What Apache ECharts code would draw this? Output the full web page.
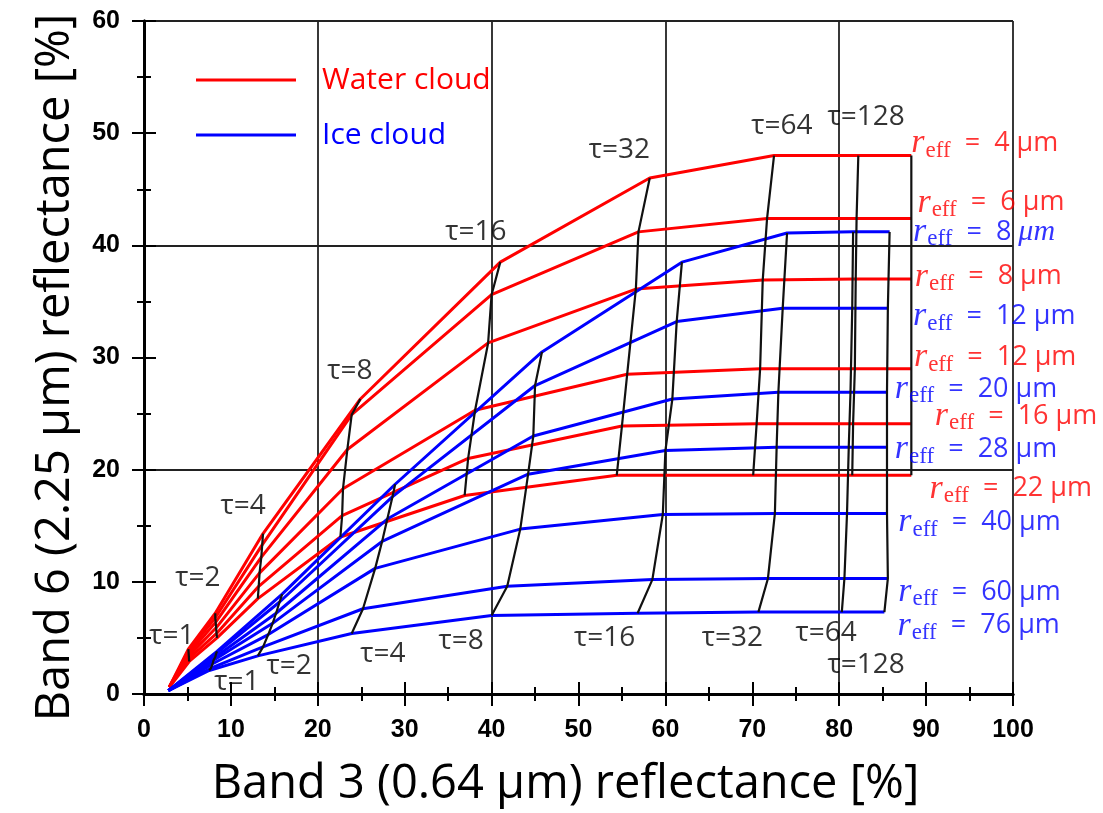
<!DOCTYPE html>
<html>
<head>
<meta charset="utf-8">
<script src="https://cdn.jsdelivr.net/npm/echarts@6/dist/echarts.min.js"></script>
<style>
html,body{margin:0;padding:0;background:#fff;}
#chart{width:1103px;height:813px;}
</style>
</head>
<body>
<div id="chart"></div>
<script>
// ---- data: optical thickness levels ----
const tauValues = [0, 1, 2, 4, 8, 16, 32, 64, 128];

// water cloud curves [band3, band6] at tau = 0,1,2,4,8,16,32,64,128, end
const water_r4  = [[2.9,0.6],[5.1,4.0],[8.2,7.2],[13.7,14.3],[24.9,26.3],[41.0,38.5],[58.2,46.0],[72.5,48.0],[82.2,48.0],[88.3,48.0]];
const water_r6  = [[2.9,0.6],[5.12,3.8],[8.2,6.8],[13.6,13.3],[23.9,24.9],[40.0,35.6],[56.9,41.2],[71.7,42.4],[82.0,42.4],[88.3,42.4]];
const water_r8  = [[2.9,0.6],[5.14,3.6],[8.25,6.4],[13.5,12.2],[23.4,21.8],[39.6,31.3],[56.6,36.1],[71.2,36.9],[81.9,37.0],[88.3,37.0]];
const water_r12 = [[2.9,0.6],[5.16,3.4],[8.3,5.9],[13.3,10.8],[22.9,18.3],[38.1,25.3],[55.6,28.5],[70.9,29.0],[81.8,29.0],[88.3,29.0]];
const water_r16 = [[2.9,0.6],[5.18,3.15],[8.35,5.4],[13.2,9.6],[22.8,15.9],[37.3,21.0],[55.0,23.9],[70.5,24.1],[81.6,24.1],[88.3,24.1]];
const water_r22 = [[2.9,0.6],[5.2,2.9],[8.4,5.0],[13.1,8.5],[22.6,14.0],[36.9,17.7],[54.4,19.5],[70.1,19.5],[81.5,19.5],[88.3,19.5]];

// ice cloud curves at tau = 0,1,2,4,8,16,32,64,128
const ice_r8  = [[2.8,0.3],[8.4,3.8],[15.9,8.9],[28.9,18.7],[45.8,30.5],[61.9,38.5],[74.0,41.1],[81.6,41.2],[85.8,41.2]];
const ice_r12 = [[2.8,0.3],[8.3,3.6],[15.6,8.2],[28.6,17.6],[45.0,27.5],[61.3,33.2],[73.5,34.4],[81.5,34.4],[85.6,34.4]];
const ice_r20 = [[2.8,0.3],[8.2,3.3],[15.2,7.2],[28.0,15.6],[44.8,23.0],[60.8,26.3],[73.0,26.9],[81.3,26.9],[85.5,26.9]];
const ice_r28 = [[2.8,0.3],[8.0,3.0],[14.8,6.3],[27.4,13.6],[44.2,19.6],[60.0,21.7],[72.8,22.0],[81.1,22.0],[85.5,22.0]];
const ice_r40 = [[2.8,0.3],[7.9,2.7],[14.3,5.3],[26.6,11.2],[43.3,14.7],[59.7,16.0],[72.6,16.1],[80.9,16.1],[85.5,16.1]];
const ice_r60 = [[2.8,0.3],[7.7,2.3],[13.7,4.2],[25.2,7.6],[41.8,9.6],[58.5,10.2],[71.8,10.3],[80.6,10.3],[85.6,10.3]];
const ice_r76 = [[2.8,0.3],[7.5,2.1],[13.1,3.4],[23.9,5.4],[40.0,7.0],[56.8,7.2],[70.7,7.3],[80.3,7.3],[85.2,7.3]];

// tau annotation texts and anchor positions (data coords)
const tauLabelText = ['τ=1','τ=2','τ=4','τ=8','τ=16','τ=32','τ=64','τ=128'];
const waterTauLabelPos = [[3.2,5.2],[6.2,10.3],[11.4,16.8],[23.7,28.8],[38.2,41.2],[54.7,48.5],[73.4,50.6],[83.1,51.4]];
const iceTauLabelPos   = [[10.7,1.1],[16.7,2.5],[27.5,3.6],[36.5,4.7],[53.0,5.0],[67.7,5.0],[78.5,5.4],[83.1,2.6]];

// effective radius annotations
const reffLabelPhase = ['water','water','ice','water','ice','water','ice','water','ice','water','ice','ice','ice'];
const reffLabelValue = [4, 6, 8, 8, 12, 12, 20, 16, 28, 22, 40, 60, 76];
const reffLabelPos = [[88.3,49.1],[89.0,43.8],[88.5,41.2],[88.7,37.2],[88.5,33.7],[88.6,30.0],[86.4,27.2],[91.0,24.8],[86.4,21.8],[90.4,18.3],[86.8,15.3],[86.8,9.1],[86.7,6.1]];

// axis ticks
const xTickInterval = 10, yTickInterval = 10, gridInterval = 20;

const RED = '#ff0000', BLUE = '#0000ff', BLACK = '#111';

const waterCurves = [water_r4, water_r6, water_r8, water_r12, water_r16, water_r22];
const iceCurves = [ice_r8, ice_r12, ice_r20, ice_r28, ice_r40, ice_r60, ice_r76];

const series = [];
waterCurves.forEach(c => series.push({
  name: 'Water cloud', type: 'line', data: c, symbol: 'none', z: 3,
  lineStyle: {color: RED, width: 3}, itemStyle: {color: RED}
}));
iceCurves.forEach(c => series.push({
  name: 'Ice cloud', type: 'line', data: c, symbol: 'none', z: 3,
  lineStyle: {color: BLUE, width: 3}, itemStyle: {color: BLUE}
}));
// iso-tau lines (black), built from the same curve points
for (let k = 1; k < water_r4.length; k++) {
  series.push({type: 'line', data: waterCurves.map(c => c[k]), symbol: 'none', z: 4,
    lineStyle: {color: BLACK, width: 2.2}});
}
for (let k = 1; k < ice_r8.length; k++) {
  series.push({type: 'line', data: iceCurves.map(c => c[k]), symbol: 'none', z: 4,
    lineStyle: {color: BLACK, width: 2.2}});
}
// tau labels
series.push({
  type: 'scatter', symbolSize: 0, z: 6, silent: true,
  data: waterTauLabelPos.concat(iceTauLabelPos).map((p, i) => ({
    value: p,
    label: {formatter: tauLabelText[i % tauLabelText.length]}
  })),
  label: {show: true, position: 'inside', color: '#000', fontFamily: 'Open Sans', fontSize: 28}
});
// r_eff labels
series.push({
  type: 'scatter', symbolSize: 0, z: 6, silent: true,
  data: reffLabelPos.map((p, i) => {
    const col = reffLabelPhase[i] === 'water' ? RED : BLUE;
    const italicUnit = (reffLabelPhase[i] === 'ice' && reffLabelValue[i] === 8);
    return {
      value: p,
      label: {
        color: col,
        formatter: '{r|r}{e|eff}{t|  =  ' + reffLabelValue[i] + ' }' + (italicUnit ? '{m|μm}' : '{t|µm}'),
        rich: {
          r: {color: col, fontFamily: 'Liberation Serif', fontStyle: 'italic', fontSize: 34},
          e: {color: col, fontFamily: 'Liberation Serif', fontSize: 23, padding: [15, 0, 0, 1]},
          t: {color: col, fontFamily: 'Open Sans', fontSize: 27},
          m: {color: col, fontFamily: 'Liberation Serif', fontStyle: 'italic', fontSize: 30}
        }
      }
    };
  }),
  label: {show: true, position: 'right', distance: 0}
});

const tickLabelStyle = {color: '#000', fontFamily: 'Liberation Sans', fontWeight: 'bold', fontSize: 25};

const option = {
  animation: false,
  backgroundColor: '#fff',
  grid: {left: 144, right: 90, top: 21, bottom: 117, containLabel: false},
  legend: {
    left: 196, top: 63, orient: 'vertical', itemWidth: 100, itemHeight: 3, itemGap: 21,
    padding: 0, icon: 'rect',
    data: [
      {name: 'Water cloud', textStyle: {color: RED, fontFamily: 'Open Sans', fontSize: 30, lineHeight: 34, padding: [0, 0, 0, 21]}},
      {name: 'Ice cloud', textStyle: {color: BLUE, fontFamily: 'Open Sans', fontSize: 30, lineHeight: 34, padding: [0, 0, 0, 21]}}
    ],
    textStyle: {fontFamily: 'Open Sans', fontSize: 30, lineHeight: 34, padding: [0, 0, 0, 21]},
    selectedMode: false
  },
  xAxis: [
    {type: 'value', position: 'bottom', min: 0, max: 100, interval: xTickInterval,
     name: 'Band 3 (0.64 µm) reflectance [%]', nameLocation: 'middle', nameGap: 67,
     nameTextStyle: {color: '#000', fontFamily: 'Open Sans', fontSize: 47, padding: [0, 26, 0, 0]},
     axisLine: {show: true, lineStyle: {color: '#000', width: 3}},
     axisTick: {show: true, length: 12, lineStyle: {color: '#000', width: 2}},
     minorTick: {show: true, splitNumber: 2, length: 7, lineStyle: {color: '#000', width: 2}},
     axisLabel: Object.assign({margin: 24}, tickLabelStyle),
     splitLine: {show: false}},
    {type: 'value', position: 'top', min: 0, max: 100, interval: xTickInterval,
     axisLine: {show: true, lineStyle: {color: '#000', width: 3}},
     axisTick: {show: true, length: 12, lineStyle: {color: '#000', width: 2}},
     minorTick: {show: true, splitNumber: 2, length: 7, lineStyle: {color: '#000', width: 2}},
     axisLabel: {show: false}, splitLine: {show: false}},
    {type: 'value', position: 'bottom', min: 0, max: 100, interval: gridInterval,
     axisLine: {show: false}, axisTick: {show: false}, axisLabel: {show: false},
     splitLine: {show: true, lineStyle: {color: '#222', width: 1.8}}}
  ],
  yAxis: [
    {type: 'value', position: 'left', min: 0, max: 60, interval: yTickInterval,
     name: 'Band 6 (2.25 µm) reflectance [%]', nameLocation: 'middle', nameGap: 65,
     nameTextStyle: {color: '#000', fontFamily: 'Open Sans', fontSize: 47, padding: [0, 20, 0, 0]},
     axisLine: {show: true, lineStyle: {color: '#000', width: 3}},
     axisTick: {show: true, length: 12, lineStyle: {color: '#000', width: 2}},
     minorTick: {show: true, splitNumber: 2, length: 7, lineStyle: {color: '#000', width: 2}},
     axisLabel: Object.assign({margin: 24}, tickLabelStyle),
     splitLine: {show: false}},
    {type: 'value', position: 'right', min: 0, max: 60, interval: yTickInterval,
     axisLine: {show: true, lineStyle: {color: '#000', width: 3}},
     axisTick: {show: true, length: 12, lineStyle: {color: '#000', width: 2}},
     minorTick: {show: true, splitNumber: 2, length: 7, lineStyle: {color: '#000', width: 2}},
     axisLabel: {show: false}, splitLine: {show: false}},
    {type: 'value', position: 'left', min: 0, max: 60, interval: gridInterval,
     axisLine: {show: false}, axisTick: {show: false}, axisLabel: {show: false},
     splitLine: {show: true, lineStyle: {color: '#222', width: 1.8}}}
  ],
  series: series
};

const chart = echarts.init(document.getElementById('chart'), null, {renderer: 'canvas'});
chart.setOption(option);
</script>
</body>
</html>
